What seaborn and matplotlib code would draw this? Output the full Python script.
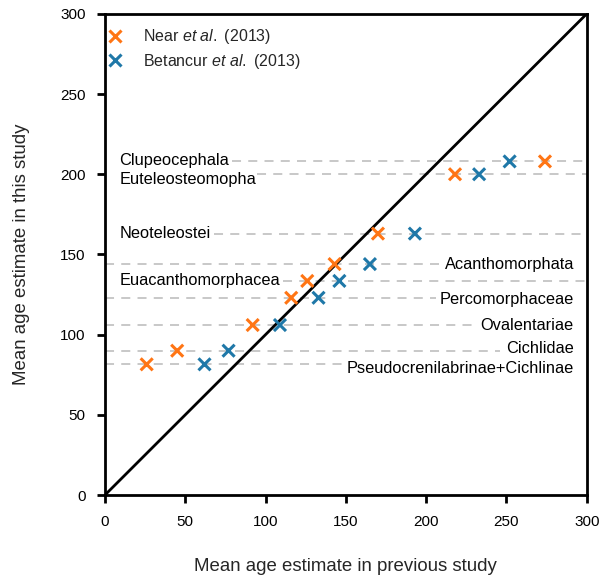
import matplotlib
matplotlib.use("Agg")
import matplotlib.pyplot as plt
import seaborn as sns
import pandas as pd
from matplotlib.lines import Line2D

clades = ["Clupeocephala", "Euteleosteomopha", "Neoteleostei", "Acanthomorphata",
          "Euacanthomorphacea", "Percomorphaceae", "Ovalentariae", "Cichlidae",
          "Pseudocrenilabrinae+Cichlinae"]
this_study = [208, 200, 163, 144, 133.5, 123, 106, 90, 81.5]
near_2013 = [274, 218, 170, 143, 126, 116, 92, 45, 26]
betancur_2013 = [252, 233, 193, 165, 146, 133, 109, 77, 62]
label_side = ["left", "left", "left", "right", "left", "right", "right", "right", "right"]
series_names = ["Near et al. (2013)", "Betancur et al. (2013)"]
legend_labels = [r"Near $\it{et\ al.}$ (2013)", r"Betancur $\it{et\ al.}$ (2013)"]
x_ticks = [0, 50, 100, 150, 200, 250, 300]
y_ticks = [0, 50, 100, 150, 200, 250, 300]

# dashed line extents (data units) chosen to clear the labels
line_extent = {
    "Clupeocephala": (79, 300), "Euteleosteomopha": (95, 300), "Neoteleostei": (68, 300),
    "Acanthomorphata": (0, 208), "Euacanthomorphacea": (111, 300),
    "Percomorphaceae": (0, 206), "Ovalentariae": (0, 230), "Cichlidae": (0, 246),
    "Pseudocrenilabrinae+Cichlinae": (0, 149),
}
# small vertical nudges of label text (points) to avoid collisions
label_nudge = {
    "Clupeocephala": 1, "Euteleosteomopha": -4, "Cichlidae": 1.5,
    "Pseudocrenilabrinae+Cichlinae": -3, "Percomorphaceae": -1,
}

sns.set_theme(style="white")
plt.rcParams["font.family"] = ["Liberation Sans", "DejaVu Sans"]
plt.rcParams["mathtext.fontset"] = "custom"
plt.rcParams["mathtext.rm"] = "Liberation Sans"
plt.rcParams["mathtext.it"] = "Liberation Sans:italic"

orange = "#ff7514"
blue = "#1f78a8"

df = pd.DataFrame({
    "clade": clades * 2,
    "this": this_study * 2,
    "prev": near_2013 + betancur_2013,
    "study": [series_names[0]] * len(clades) + [series_names[1]] * len(clades),
})

fig = plt.figure(figsize=(6.03, 5.77), dpi=100)
ax = fig.add_axes([0.174, 0.142, 0.799, 0.834])

for c, y, side in zip(clades, this_study, label_side):
    x0, x1 = line_extent[c]
    ax.plot([x0, x1], [y, y], color="#c4c4c4", lw=1.3, ls=(0, (5, 4)), zorder=1)
    dy = label_nudge.get(c, 0)
    if side == "left":
        ax.annotate(c, (9, y), xytext=(0, dy), textcoords="offset points",
                    ha="left", va="center", fontsize=11.8, color="black")
    else:
        ax.annotate(c, (292, y), xytext=(0, dy), textcoords="offset points",
                    ha="right", va="center", fontsize=11.8, color="black")

ax.plot([0, 300], [0, 300], color="black", lw=2, zorder=2)

sns.scatterplot(data=df, x="prev", y="this", hue="study",
                palette={series_names[0]: orange, series_names[1]: blue},
                marker="x", s=75, linewidth=2.2, ax=ax, zorder=3, legend=False)

handles = [Line2D([], [], marker="x", color=orange, ls="", markersize=8, mew=2.2),
           Line2D([], [], marker="x", color=blue, ls="", markersize=8, mew=2.2)]
ax.legend(handles, legend_labels, loc="upper left", frameon=False, fontsize=11.5,
          handletextpad=1.35, borderaxespad=0.0, borderpad=0.25, labelspacing=0.35,
          handlelength=0.8, bbox_to_anchor=(0.0, 0.98))

ax.set_xlim(0, 300)
ax.set_ylim(0, 300)
ax.set_xticks(x_ticks)
ax.set_yticks(y_ticks)
ax.tick_params(direction="out", length=6, width=2, labelsize=11, pad=8,
               bottom=True, left=True, colors="black")
for s in ax.spines.values():
    s.set_linewidth(2)
    s.set_color("black")
ax.set_xlabel("Mean age estimate in previous study", fontsize=13.4, labelpad=21.5)
ax.set_ylabel("Mean age estimate in this study", fontsize=13.4, labelpad=21.5)

fig.savefig("out.png", dpi=100)
